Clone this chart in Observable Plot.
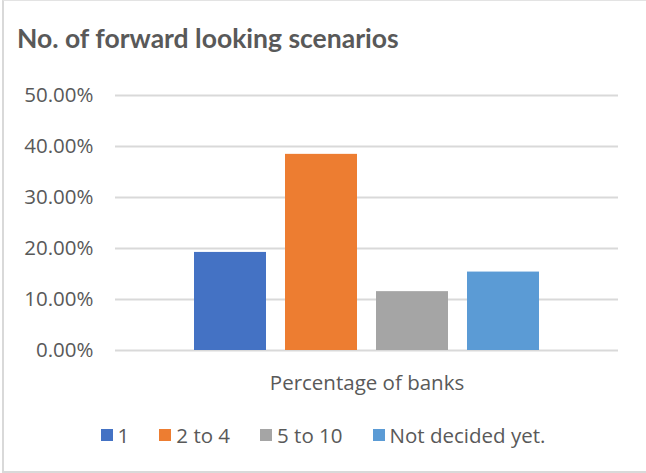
<!DOCTYPE html>
<html>
<head>
<meta charset="utf-8">
<script src="https://cdn.jsdelivr.net/npm/d3@7"></script>
<script src="https://cdn.jsdelivr.net/npm/@observablehq/plot@0.6"></script>
<style>
  html, body { margin: 0; padding: 0; background: #fff; }
  #wrap { position: relative; width: 646px; height: 473px; overflow: hidden; background: #fff; }
  #frame { position: absolute; left: 2px; top: 0; width: 700px; height: 470px; border-left: 2px solid #d9d9d9; border-top: 1px solid #e3e3e3; border-bottom: 2px solid #d9d9d9; }
  #title { position: absolute; left: 17px; top: 18px; font-family: Lato, sans-serif; font-weight: 700; font-size: 26.5px; line-height: 40px; color: #595959; white-space: nowrap; }
  #chart { position: absolute; left: 0; top: 0; }
  #legend { position: absolute; left: 0; top: 424px; width: 646px; display: flex; justify-content: center; gap: 30px; font-family: "Open Sans", sans-serif; font-size: 20.5px; line-height: 22px; color: #595959; }
  .item { display: flex; align-items: center; white-space: nowrap; }
  .sw { width: 12px; height: 12px; margin-right: 5px; }
</style>
</head>
<body>
<div id="wrap">
  <div id="frame"></div>
  <div id="chart"></div>
  <div id="title"></div>
  <div id="legend"></div>
</div>
<script>
const titleText = "No. of forward looking scenarios";
const groupLabel = "Percentage of banks";
const categories = ["1", "2 to 4", "5 to 10", "Not decided yet."];
const values = [0.1923, 0.3846, 0.1154, 0.1538];
const colors = ["#4472C4", "#ED7D31", "#A5A5A5", "#5B9BD5"];
const yTicks = [0, 0.1, 0.2, 0.3, 0.4, 0.5];

const data = categories.map((c, i) => ({group: groupLabel, category: c, value: values[i]}));

document.getElementById("title").textContent = titleText;

const chart = Plot.plot({
  width: 646,
  height: 410,
  marginTop: 95,
  marginBottom: 60,
  marginLeft: 115,
  marginRight: 28,
  style: {fontFamily: "'Open Sans', sans-serif", fontSize: "20.5px", color: "#595959", background: "transparent", overflow: "visible"},
  fx: {domain: [groupLabel], paddingInner: 0, paddingOuter: 0, label: null, axis: "bottom", tickSize: 0, tickPadding: 25},
  x: {domain: categories, paddingInner: 0.209, paddingOuter: 0.868, axis: null},
  y: {domain: [0, 0.5], ticks: yTicks, tickFormat: d => (d * 100).toFixed(2) + "%", label: null, tickSize: 0, tickPadding: 22},
  color: {domain: categories, range: colors},
  marks: [
    Plot.gridY(yTicks, {stroke: "#d9d9d9", strokeOpacity: 1, strokeWidth: 2}),
    Plot.barY(data, {fx: "group", x: "category", y: "value", fill: "category"})
  ]
});
document.getElementById("chart").appendChild(chart);

const legend = document.getElementById("legend");
categories.forEach((c, i) => {
  const item = document.createElement("div");
  item.className = "item";
  const sw = document.createElement("span");
  sw.className = "sw";
  sw.style.background = colors[i];
  const lab = document.createElement("span");
  lab.textContent = c;
  item.appendChild(sw);
  item.appendChild(lab);
  legend.appendChild(item);
});
</script>
</body>
</html>
